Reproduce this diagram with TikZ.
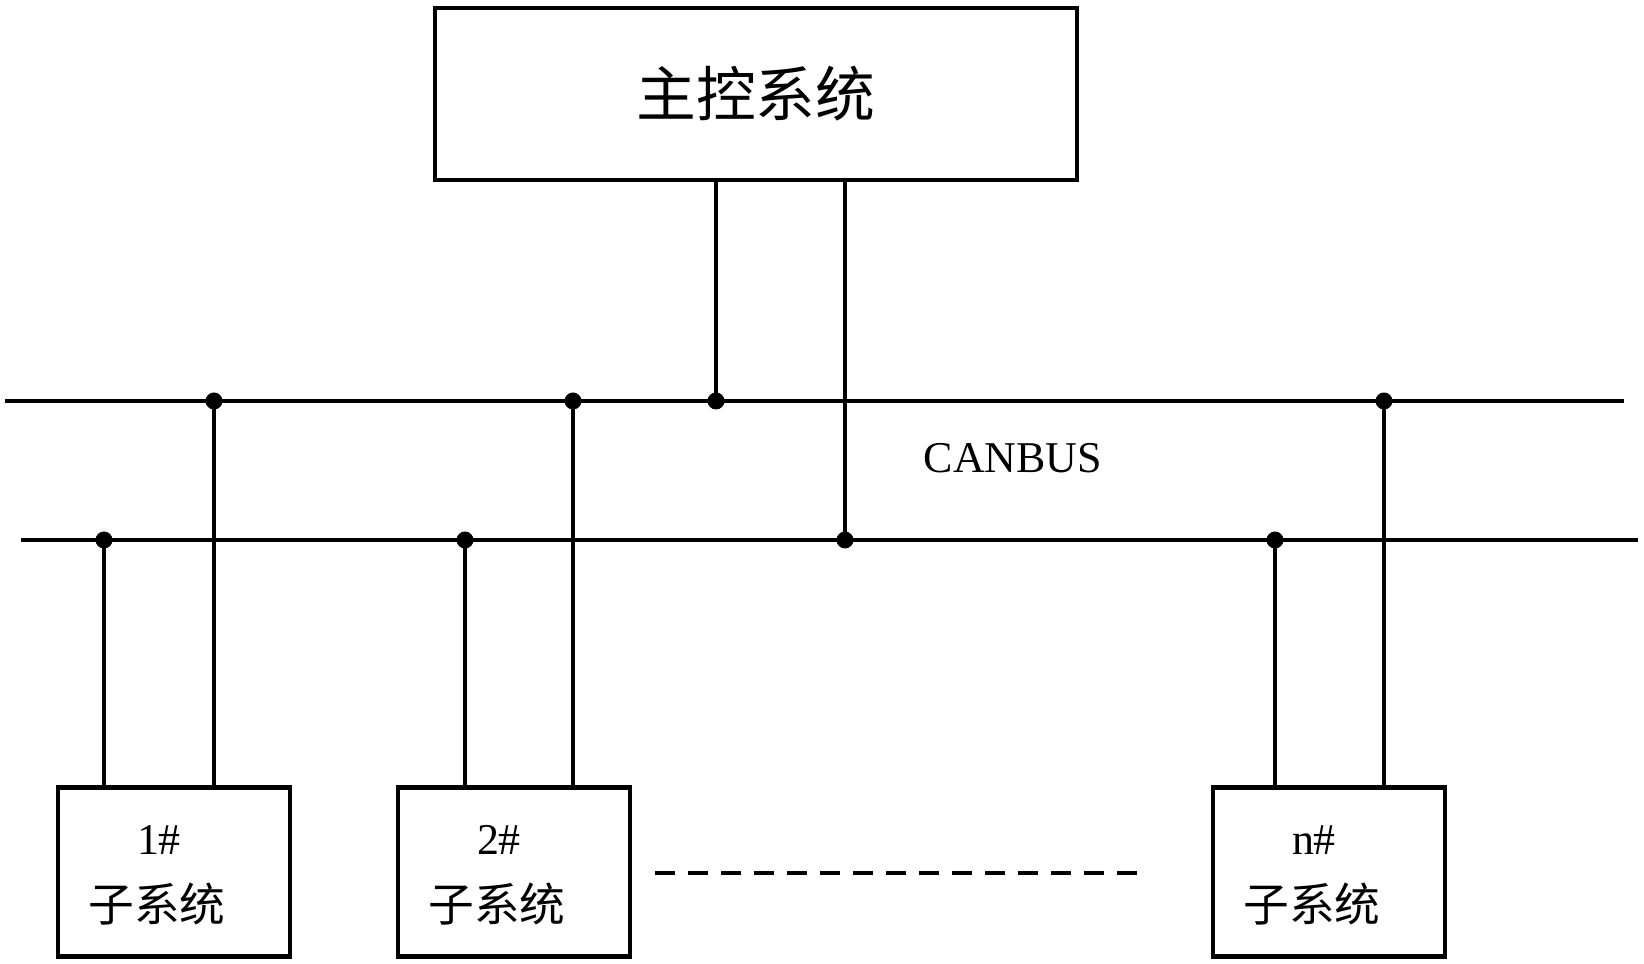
\documentclass[tikz,border=0pt]{standalone}
\usepackage{fontspec}
\setmainfont{Liberation Serif}
\newfontfamily\cjk{Noto Sans CJK SC}
\usetikzlibrary{positioning}

\begin{document}
\begin{tikzpicture}
	[x=0.01cm, y=-0.01cm, line width=1pt,
	sub box/.style={draw, minimum width=2.32cm, minimum height=1.69cm, line width=1.2pt},
	joint/.style={circle, fill, inner sep=0pt, minimum size=0.17cm}]
	\useasboundingbox (0,0) rectangle (1644,964);
	\node (M) [draw, line width=1.2pt, minimum width=6.42cm, minimum height=1.72cm] at (756,94) {\cjk\fontsize{17}{20}\selectfont 主控系统};
	% buses
	\coordinate (A1) at (5,401); \coordinate (A2) at (1624,401);
	\coordinate (B1) at (21,540); \coordinate (B2) at (1638,540);
	\draw (A1) -- (A2);
	\draw (B1) -- (B2);
	\node (can) at (1013,458) {\fontsize{12.5}{15}\selectfont CANBUS};
	% subsystems
	\node (S1) [sub box] at (174,872) {};
	\node (S2) [sub box] at (514,872) {};
	\node (Sn) [sub box] at (1329,872) {};
	\foreach \s/\t/\a/\b in {S1/1/104/214, S2/2/465/573, Sn/n/1275/1384}{
		\node (\s l) at ([xshift=-0.15cm, yshift=-0.55cm]\s.north) {\fontsize{12.5}{15}\selectfont \t\#};
		\node (\s t) at ([xshift=-0.17cm, yshift=0.55cm]\s.south) {\cjk\fontsize{13}{15}\selectfont 子系统};
		\node (\s a) [joint] at (\a,540) {};
		\node (\s b) [joint] at (\b,401) {};
		\draw (\s a.center) -- (\s.north -| \s a);
		\draw (\s b.center) -- (\s.north -| \s b);
	}
	% master links
	\node (ma) [joint] at (716,401) {};
	\node (mb) [joint] at (845,540) {};
	\draw (M.south -| ma) -- (ma.center);
	\draw (M.south -| mb) -- (mb.center);
	\coordinate (d1) at (655,873); \coordinate (d2) at (1142,873);
	\draw[dash pattern=on 0.2cm off 0.13cm] (d1) -- (d2);
\end{tikzpicture}
\end{document}
